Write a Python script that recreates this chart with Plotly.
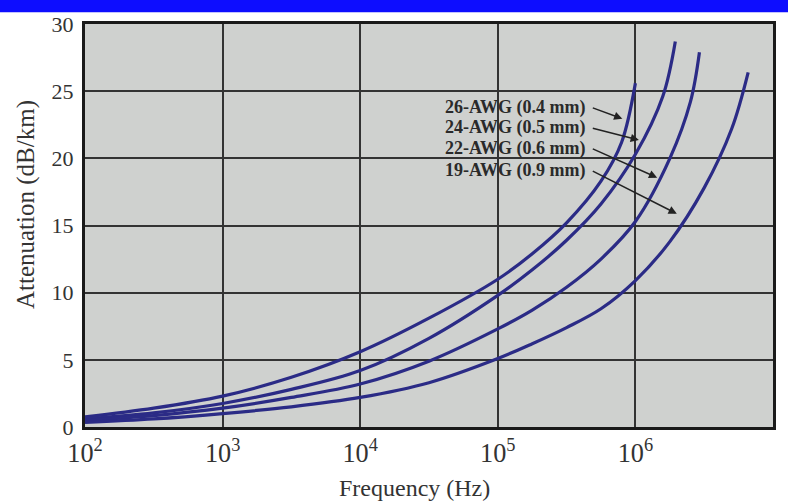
import plotly.graph_objects as go
import numpy as np

# ---- data ----
freq_26 = [1e2, 3.16e2, 1e3, 3.16e3, 1e4, 3.16e4, 1e5, 1.78e5, 3.16e5, 5.62e5, 7.94e5, 1e6]
att_26 = [0.75, 1.4, 2.3, 3.7, 5.6, 8.1, 11.0, 12.9, 15.2, 18.3, 21.2, 25.6]

freq_24 = [1e2, 3.16e2, 1e3, 3.16e3, 1e4, 3.16e4, 1e5, 1.78e5, 3.16e5, 5.62e5, 1e6, 1.58e6, 1.95e6]
att_24 = [0.6, 1.05, 1.75, 2.8, 4.2, 6.6, 9.8, 11.7, 13.9, 16.6, 20.3, 24.6, 28.7]

freq_22 = [1e2, 3.16e2, 1e3, 3.16e3, 1e4, 3.16e4, 1e5, 1.78e5, 3.16e5, 5.62e5, 1e6, 1.78e6, 2.51e6, 2.92e6]
att_22 = [0.5, 0.85, 1.4, 2.2, 3.2, 4.9, 7.3, 8.7, 10.4, 12.5, 15.3, 20.0, 24.2, 27.9]

freq_19 = [1e2, 3.16e2, 1e3, 3.16e3, 1e4, 3.16e4, 1e5, 1.78e5, 3.16e5, 5.62e5, 1e6, 1.78e6, 3.16e6, 5.01e6, 6.6e6]
att_19 = [0.35, 0.6, 1.0, 1.5, 2.2, 3.3, 5.1, 6.2, 7.4, 8.8, 10.9, 13.8, 17.8, 22.2, 26.4]

labels = ["26-AWG (0.4 mm)", "24-AWG (0.5 mm)", "22-AWG (0.6 mm)", "19-AWG (0.9 mm)"]
label_y = [23.8, 22.27, 20.75, 19.1]
arrow_head_f = [8.04e5, 1.06e6, 1.44e6, 2.0e6]
arrow_head_y = [22.95, 21.36, 18.56, 15.88]
label_f = 4.45e5        # right edge of label text
arrow_tail_f = 4.78e5

y_ticks = [0, 5, 10, 15, 20, 25, 30]
x_range = [1e2, 1e7]

curve_color = "#2b2b86"
serif = "Liberation Serif, Times New Roman, serif"

fig = go.Figure()
for f, a, name in zip([freq_26, freq_24, freq_22, freq_19],
                      [att_26, att_24, att_22, att_19], labels):
    fig.add_trace(go.Scatter(x=f, y=a, mode="lines", name=name,
                             line=dict(color=curve_color, width=3.2,
                                       shape="spline", smoothing=1.0)))

annotations = []
for txt, ly, hf, hy in zip(labels, label_y, arrow_head_f, arrow_head_y):
    annotations.append(dict(x=np.log10(label_f), y=ly, xref="x", yref="y",
                            text=txt, showarrow=False, xanchor="right",
                            yanchor="middle",
                            font=dict(family=serif, size=18, color="#2a2a2a",
                                      weight="bold")))
    annotations.append(dict(x=np.log10(hf), y=hy, xref="x", yref="y",
                            ax=np.log10(arrow_tail_f), ay=ly,
                            axref="x", ayref="y", text="", showarrow=True,
                            arrowhead=2, arrowsize=1.1, arrowwidth=1.5,
                            arrowcolor="#222222"))

annotations.append(dict(x=(415 - 85) / 690, y=(427 - 489) / 410, xref="paper",
                        yref="paper", text="Frequency (Hz)", showarrow=False,
                        xanchor="center", yanchor="middle",
                        font=dict(family=serif, size=24, color="#333333")))
annotations.append(dict(x=(26 - 85) / 690, y=(427 - 201) / 410, xref="paper",
                        yref="paper", text="Attenuation (dB/km)", showarrow=False,
                        textangle=-90, xanchor="center", yanchor="middle",
                        font=dict(family=serif, size=25, color="#333333")))

fig.update_layout(
    width=788, height=503,
    margin=dict(l=85, r=13, t=17, b=76),
    paper_bgcolor="white",
    plot_bgcolor="#cfd1cf",
    showlegend=False,
    annotations=annotations,
    shapes=[dict(type="rect", xref="paper", yref="paper",
                 x0=-0.2, x1=1.1, y0=(427 - 5) / 410, y1=1.06,
                 fillcolor="#0d0dff", line=dict(width=0), layer="above")],
    xaxis=dict(type="log", range=[np.log10(x_range[0]), np.log10(x_range[1])],
               dtick=1, exponentformat="power", showexponent="all",
               showgrid=True, gridcolor="#333333", gridwidth=2,
               showline=True, linecolor="#1a1a1a", linewidth=3, mirror=True,
               ticks="", zeroline=False, ticklabelstandoff=2,
               tickfont=dict(family=serif, size=21, color="#333333")),
    yaxis=dict(range=[0, 30], tickvals=y_ticks,
               showgrid=True, gridcolor="#333333", gridwidth=2,
               showline=True, linecolor="#1a1a1a", linewidth=3, mirror=True,
               ticks="", zeroline=False, ticklabelstandoff=4,
               tickfont=dict(family=serif, size=22, color="#333333")),
)

fig.write_html("out.html")
